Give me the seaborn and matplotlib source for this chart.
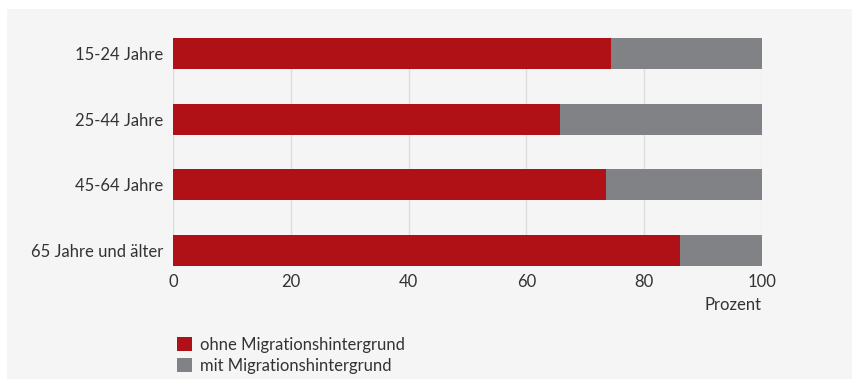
import matplotlib
matplotlib.use("Agg")
import matplotlib.pyplot as plt
import matplotlib.patches as mpatches
import seaborn as sns
import pandas as pd

categories = ["15-24 Jahre", "25-44 Jahre", "45-64 Jahre", "65 Jahre und älter"]
ohne = [74.4, 65.7, 73.5, 86.1]
mit = [25.6, 34.3, 26.5, 13.9]
xticks = [0, 20, 40, 60, 80, 100]
series_names = ["ohne Migrationshintergrund", "mit Migrationshintergrund"]

RED = "#b01117"
GRAY = "#818285"
BG = "#f4f5f4"
TXT = "#333333"
FS = 12

sns.set_theme(style="white")
plt.rcParams['font.family'] = ['Lato', 'DejaVu Sans']

df = pd.DataFrame({"cat": categories, "ohne": ohne, "mit": mit})
df["total"] = df["ohne"] + df["mit"]

fig = plt.figure(figsize=(8.52, 3.79), dpi=100, facecolor="white")
fig.patches.append(mpatches.Rectangle((7/852, 0), 1, 1 - 9/379, transform=fig.transFigure,
                                      facecolor=BG, edgecolor="none", zorder=-10))
ax = fig.add_axes([173/852, 1 - 266/379, (762-173)/852, (266-38)/379])
ax.set_facecolor(BG)

sns.barplot(data=df, y="cat", x="total", color=GRAY, width=0.477, ax=ax,
            orient="h", saturation=1, zorder=3, linewidth=0)
sns.barplot(data=df, y="cat", x="ohne", color=RED, width=0.477, ax=ax,
            orient="h", saturation=1, zorder=4, linewidth=0)

ax.set_xlim(0, 100)
ax.set_ylim(3.2385, -0.2385)
ax.set_xticks(xticks)
ax.set_xticklabels([str(t) for t in xticks])
ax.grid(axis="x", color="#dcdcdc", linewidth=1, zorder=0)
ax.grid(axis="y", visible=False)
ax.set_axisbelow(True)
for s in ax.spines.values():
    s.set_visible(False)
ax.tick_params(axis="both", length=0, labelsize=FS, labelcolor=TXT)
ax.tick_params(axis="x", pad=6)
ax.tick_params(axis="y", pad=7)
ax.set_ylabel("")
ax.set_xlabel("")

fig.text(762/852, 1 - 305/379, "Prozent", ha="right", va="center", fontsize=FS, color=TXT)

handles = [mpatches.Patch(facecolor=RED, edgecolor="none"),
           mpatches.Patch(facecolor=GRAY, edgecolor="none")]
leg = fig.legend(handles, series_names, loc="upper left",
                 bbox_to_anchor=(177/852, 1 - 337/379), frameon=False,
                 fontsize=FS, handlelength=0.9, handleheight=0.9,
                 handletextpad=0.5, labelspacing=0.3, borderpad=0, borderaxespad=0)
for t in leg.get_texts():
    t.set_color(TXT)

fig.savefig("out.png", dpi=100, facecolor="white")
